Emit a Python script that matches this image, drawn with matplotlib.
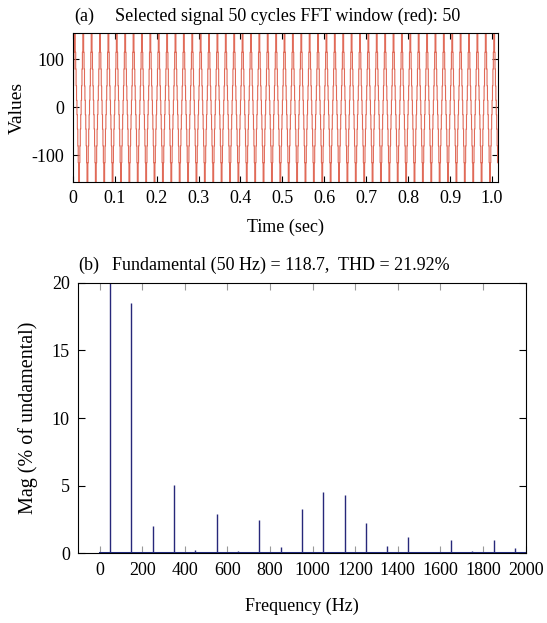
import numpy as np
import matplotlib.pyplot as plt

plt.rcParams['font.family'] = ['Liberation Serif', 'DejaVu Serif']
plt.rcParams['font.size'] = 13
plt.rcParams['axes.unicode_minus'] = False

# one cycle (20 ms) of the stepped signal, 1 ms per step
cycle_levels = [15, 45, 80, 115, 175, 175, 115, 80, 45, 15,
                -15, -45, -80, -115, -175, -175, -115, -80, -45, -15]
n_cycles = 51
t_end = 1.0136

# harmonic spectrum (% of fundamental)
freqs = [0, 50, 150, 250, 350, 450, 550, 650, 750, 850, 950, 1050, 1150,
         1250, 1350, 1450, 1550, 1650, 1750, 1850, 1950, 2000]
mags = [0, 100, 18.5, 2.0, 5.05, 0.25, 2.9, 0.2, 2.45, 0.45, 3.3, 4.55, 4.3,
        2.2, 0.5, 1.2, 0.05, 0.98, 0.2, 1.0, 0.4, 0]

sig = np.tile(cycle_levels, n_cycles)
t = np.arange(len(sig)) * 0.001
keep = t <= t_end
t, sig = t[keep], sig[keep]

fig = plt.figure(figsize=(5.47, 6.23), dpi=100)

ax1 = fig.add_axes([0.133, 0.708, 0.777, 0.239])
ax1.plot(t, sig, color='#e06a58', lw=0.8, drawstyle='steps-post')
ax1.set_xlim(0, t_end)
ax1.set_ylim(-155, 155)
ax1.set_xticks(np.arange(0, 1.01, 0.1))
ax1.set_xticklabels(['0'] + ['%.1f' % v for v in np.arange(0.1, 1.01, 0.1)])
ax1.set_yticks([-100, 0, 100])
ax1.tick_params(direction='in', top=True, right=True, length=4, pad=6)
ax1.set_xlabel('Time (sec)', labelpad=8)
ax1.set_ylabel('Values', fontsize=14)
fig.text(0.135, 0.966, '(a)', fontsize=13)
fig.text(0.21, 0.966, 'Selected signal 50 cycles FFT window (red): 50', fontsize=13)

ax2 = fig.add_axes([0.143, 0.112, 0.818, 0.434])
mk, st, bl = ax2.stem(freqs, mags, linefmt='-', markerfmt=' ', basefmt='-')
plt.setp(st, color='#27287a', lw=1)
plt.setp(bl, color='#1f2a80', lw=2.2)
ax2.set_xlim(-100, 2000)
ax2.set_ylim(0, 20)
ax2.set_xticks(np.arange(0, 2001, 200))
ax2.set_yticks([0, 5, 10, 15, 20])
ax2.tick_params(direction='in', top=True, right=True, length=5, pad=6)
ax2.tick_params(axis='x', colors='#999999', labelcolor='black')
ax2.set_xlabel('Frequency (Hz)', labelpad=14)
ax2.set_ylabel('Mag (% of undamental)', fontsize=14.5, labelpad=10)
fig.text(0.143, 0.567, '(b)', fontsize=13)
fig.text(0.205, 0.567, 'Fundamental (50 Hz) = 118.7,  THD = 21.92%', fontsize=13)

fig.savefig('out.png', dpi=100)
